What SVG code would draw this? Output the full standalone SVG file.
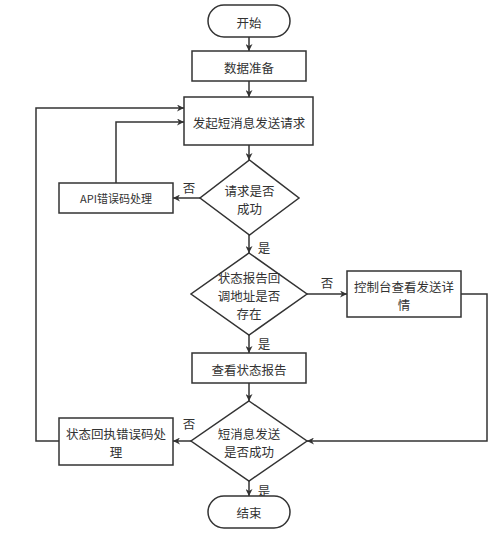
<svg xmlns="http://www.w3.org/2000/svg" width="500" height="534" viewBox="0 0 500 534">
<defs>
<marker id="arr" viewBox="0 0 10 10" refX="10" refY="5" markerWidth="7" markerHeight="7" markerUnits="userSpaceOnUse" orient="auto">
<path d="M0,0 L10,5 L0,10 L3,5 Z" fill="#333"/>
</marker>
</defs>
<style>
.shape{fill:#fff;stroke:#333;stroke-width:1.5}
.t{font-family:"Noto Sans CJK SC","Microsoft YaHei",sans-serif;font-size:12.5px;fill:#333;text-anchor:middle;dominant-baseline:central}
.s{font-size:11px}
.c{fill:none;stroke:#333;stroke-width:1.5;marker-end:url(#arr)}
</style>
<rect width="500" height="534" fill="#fff"/>
<g id="connectors">
<path class="c" d="M249,37 V51"/>
<path class="c" d="M249,81 V97"/>
<path class="c" d="M249,145 V160"/>
<path class="c" d="M200,198 H173"/>
<path class="c" d="M116,183 V122 H184"/>
<path class="c" d="M249,235 V253"/>
<path class="c" d="M307,294 H347"/>
<path class="c" d="M461,294 H487 V441 H307"/>
<path class="c" d="M249,335 V353"/>
<path class="c" d="M249,383 V401"/>
<path class="c" d="M191,441 H173"/>
<path class="c" d="M59,441 H36 V108 H184"/>
<path class="c" d="M249,481 V496"/>
<text class="t" x="189" y="187">否</text>
<text class="t" x="264" y="247">是</text>
<text class="t" x="327" y="282">否</text>
<text class="t" x="264" y="343">是</text>
<text class="t" x="189" y="423">否</text>
<text class="t" x="264" y="490">是</text>
</g>
<g id="start">
<rect class="shape" x="208" y="5" width="82" height="32" rx="16"/>
<text class="t" x="249" y="22">开始</text>
</g>
<g id="prepare">
<rect class="shape" x="192" y="51" width="114" height="30"/>
<text class="t" x="249" y="67">数据准备</text>
</g>
<g id="send">
<rect class="shape" x="184" y="97" width="129" height="48"/>
<text class="t" x="249" y="122">发起短消息发送请求</text>
</g>
<g id="req-ok">
<polygon class="shape" points="249.5,160 299,198 249.5,235 200,198"/>
<text class="t" x="249.5" y="190">请求是否</text>
<text class="t" x="249.5" y="208">成功</text>
</g>
<g id="api-err">
<rect class="shape" x="59" y="183" width="114" height="30"/>
<text class="t s" x="116" y="198">API错误码处理</text>
</g>
<g id="callback">
<polygon class="shape" points="249,253 307,294 249,335 191,294"/>
<text class="t" x="249" y="277">状态报告回</text>
<text class="t" x="249" y="295">调地址是否</text>
<text class="t" x="249" y="313">存在</text>
</g>
<g id="console">
<rect class="shape" x="347" y="271" width="114" height="46"/>
<text class="t" x="404" y="286">控制台查看发送详</text>
<text class="t" x="404" y="304">情</text>
</g>
<g id="report">
<rect class="shape" x="192" y="353" width="114" height="30"/>
<text class="t" x="249" y="369">查看状态报告</text>
</g>
<g id="sms-ok">
<polygon class="shape" points="249,401 307,441 249,481 191,441"/>
<text class="t" x="249" y="433">短消息发送</text>
<text class="t" x="249" y="451">是否成功</text>
</g>
<g id="receipt-err">
<rect class="shape" x="59" y="418" width="114" height="47"/>
<text class="t" x="116" y="433">状态回执错误码处</text>
<text class="t" x="116" y="451">理</text>
</g>
<g id="end">
<rect class="shape" x="208" y="496" width="82" height="32" rx="16"/>
<text class="t" x="249" y="512">结束</text>
</g>
</svg>
